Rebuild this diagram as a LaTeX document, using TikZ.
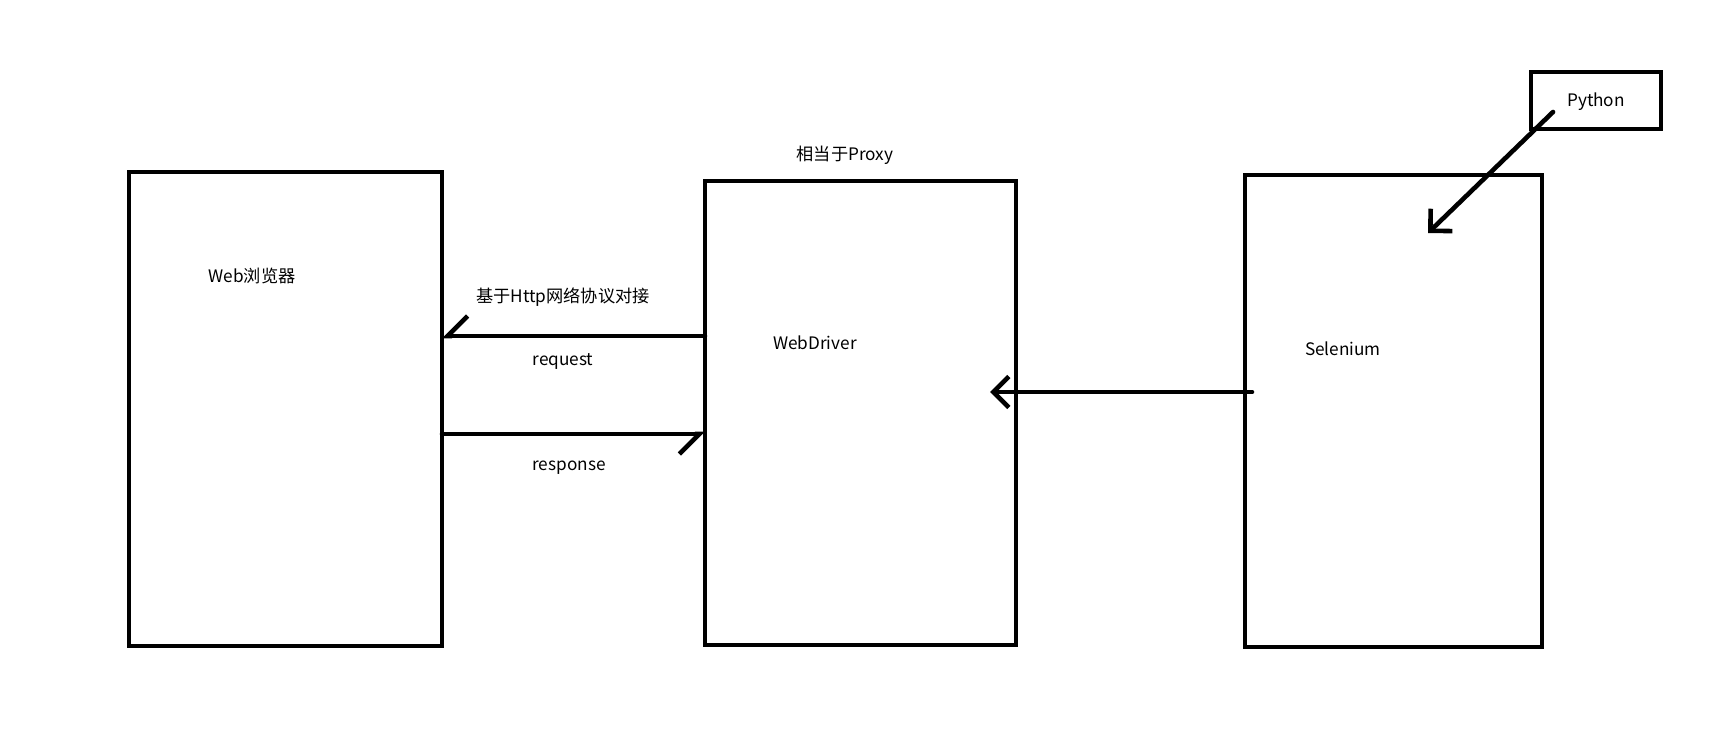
\documentclass[tikz,border=0pt]{standalone}
\usepackage{fontspec}
\setmainfont{Noto Sans CJK SC}
\usetikzlibrary{arrows.meta}
\tikzset{%
  tipA/.tip={Straight Barb[angle=90:11pt]},
  tipH/.tip={Straight Barb[right,length=10pt,width=20pt]},
  box/.style={draw, line width=2.2pt, inner sep=0pt, outer sep=0pt},
  lbl/.style={font=\fontsize{8.6}{10}\selectfont, inner sep=0pt, text height=6pt, text depth=0pt},
  arr/.style={line width=2.3pt, line cap=round}
}

\begin{document}
\begin{tikzpicture}[x=0.5pt,y=-0.5pt]
\useasboundingbox (0,0) rectangle (1713,743);
% boxes
\node[box, minimum width=156.5pt, minimum height=237pt] (browser) at (285.5,409) {};
\node[box, minimum width=155.5pt, minimum height=232pt] (driver) at (860.5,413) {};
\node[box, minimum width=148.5pt, minimum height=236pt] (selenium) at (1393.5,411) {};
\node[box, lbl, minimum width=65pt, minimum height=28.5pt] (python) at (1596,100.5) {Python};
% labels
\node[lbl] (browserlbl) at (252,277) {Web浏览器};
\node[lbl] (proxylbl) at (845,155) {相当于Proxy};
\node[lbl] (driverlbl) at (815,344) {WebDriver};
\node[lbl] (selenlbl) at (1343,349) {Selenium};
\node[lbl] (httplbl) at (563,296) {基于Http网络协议对接};
\node[lbl] (reqlbl) at (563,359) {request};
\node[lbl] (resplbl) at (569,464) {response};
% connectors
\coordinate (reqy) at (0,336);
\coordinate (respy) at (0,434);
\coordinate (sely) at (0,392);
\coordinate (selend) at (990,392);
\coordinate (pystart) at (1553,112);
\coordinate (pyend) at (1428,233);
\draw[arr, -tipH] (driver.west |- reqy) -- (browser.east |- reqy);
\draw[arr, -tipH] (browser.east |- respy) -- (driver.west |- respy);
\draw[arr, -tipA] ([xshift=3.5pt]selenium.west |- sely) -- (selend);
\draw[arr, -tipA] (pystart) -- (pyend);
\end{tikzpicture}
\end{document}
